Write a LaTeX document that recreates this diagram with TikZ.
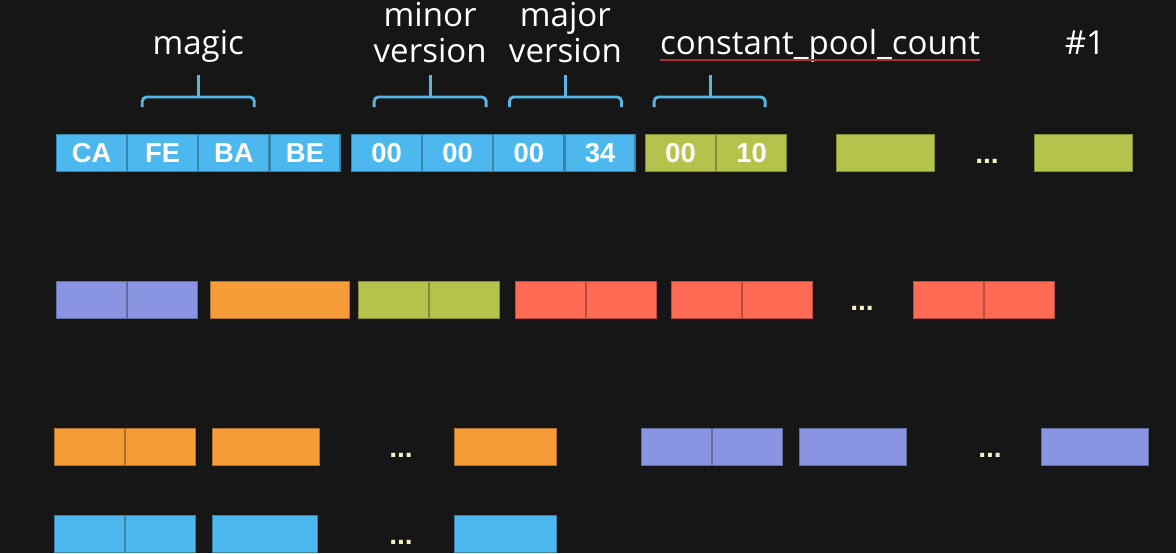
\documentclass[tikz,border=0pt]{standalone}
\usepackage{fontspec}
\setmainfont{Open Sans}
\newfontfamily\bytefont{Liberation Sans}
\usetikzlibrary{positioning}
\definecolor{boardBlack}{HTML}{161616}
\definecolor{byteBlue}{HTML}{4DB8EE}
\definecolor{poolGreen}{HTML}{B5C24C}
\definecolor{slotPurple}{HTML}{8A95E2}
\definecolor{fieldOrange}{HTML}{F59B38}
\definecolor{methodRed}{HTML}{FF6A55}
\definecolor{braceBlue}{HTML}{55B6E8}
\definecolor{dotYellow}{HTML}{F4F1C4}
\definecolor{spellRed}{HTML}{A83232}

\begin{document}
\begin{tikzpicture}[x=0.025cm, y=-0.025cm, node distance=0pt,
    cell/.style={rectangle, draw=#1!72!black, fill=#1, line width=0.8pt,
      minimum width=1.75cm, minimum height=0.925cm, inner sep=0pt,
      text=white, font=\bytefont\bfseries\fontsize{19.5}{21}\selectfont},
    field/.style={text=white, inner sep=0pt, text depth=0pt, align=center,
      font=\fontsize{23.5}{25.6}\selectfont},
    brace/.style={braceBlue, line width=2pt, rounded corners=3pt},
    dots/.style={anchor=base, inner sep=0pt, text=dotYellow,
      font=\bytefont\bfseries\fontsize{20}{20}\selectfont}]
    \useasboundingbox (0,0) rectangle (1176,553);
    \clip (0,0) rectangle (1176,553);
    \fill[boardBlack] (0,0) rectangle (1176,553);

    % first row: header bytes
    \node[cell=byteBlue, anchor=north west] (ca) at (56,134) {CA};
    \node[cell=byteBlue, right=of ca] (fe) {FE};
    \node[cell=byteBlue, right=of fe] (ba) {BA};
    \node[cell=byteBlue, right=of ba] (be) {BE};
    \node[cell=byteBlue, anchor=north west] (mi1) at (351,134) {00};
    \node[cell=byteBlue, right=of mi1] (mi2) {00};
    \node[cell=byteBlue, right=of mi2] (ma1) {00};
    \node[cell=byteBlue, right=of ma1] (ma2) {34};
    \node[cell=poolGreen, anchor=north west] (cpc1) at (645,134) {00};
    \node[cell=poolGreen, right=of cpc1] (cpc2) {10};
    \node[cell=poolGreen, minimum width=2.45cm, anchor=north west] (cp1) at (836,134) {};
    \node[dots] (d1) at (987,163) {...};
    \node[cell=poolGreen, minimum width=2.45cm, anchor=north west] (cpn) at (1034,134) {};

    \draw[brace] ([shift={(-56,-27)}]fe.north east) -- ++(0,-10) -| ++(112,10);
    \draw[brace] ([shift={(0,-37)}]fe.north east) -- ++(0,-22) coordinate (magictop);
    \draw[brace] ([shift={(-48,-27)}]mi1.north east) -- ++(0,-10) -| ++(112,10);
    \draw[brace] ([shift={(8,-37)}]mi1.north east) -- ++(0,-22) coordinate (minortop);
    \draw[brace] ([shift={(-55,-27)}]ma1.north east) -- ++(0,-10) -| ++(112,10);
    \draw[brace] ([shift={(1,-37)}]ma1.north east) -- ++(0,-22) coordinate (majortop);
    \draw[brace] ([shift={(-62,-27)}]cpc1.north east) -- ++(0,-10) -| ++(111,10);
    \draw[brace] ([shift={(-6,-37)}]cpc1.north east) -- ++(0,-22) coordinate (cpctop);

    \node[field, above=0.5cm of magictop] (magic) {magic};
    \node[field, above=0.3cm of minortop] (minor) {minor\\version};
    \node[field, above=0.3cm of majortop] (major) {major\\version};
    \node[field, anchor=south] (cpc) at (820,55) {constant\_pool\_count};
    \draw[spellRed, line width=1.1pt] ([yshift=-0.13cm]cpc.south west) -- ([yshift=-0.13cm]cpc.south east);
    \node[field, anchor=south] (first) at (1085,55) {\#1};

    % second row
    \node[cell=slotPurple, anchor=north west] (ra1) at (56,281) {};
    \node[cell=slotPurple, right=of ra1] (ra2) {};
    \node[cell=fieldOrange, minimum width=3.475cm, anchor=north west] (rb) at (210,281) {};
    \node[cell=poolGreen, anchor=north west] (rc1) at (358,281) {};
    \node[cell=poolGreen, right=of rc1] (rc2) {};
    \node[cell=methodRed, anchor=north west] (rd1) at (515,281) {};
    \node[cell=methodRed, right=of rd1] (rd2) {};
    \node[cell=methodRed, anchor=north west] (re1) at (671,281) {};
    \node[cell=methodRed, right=of re1] (re2) {};
    \node[dots] (d2) at (862,310) {...};
    \node[cell=methodRed, anchor=north west] (rf1) at (913,281) {};
    \node[cell=methodRed, right=of rf1] (rf2) {};

    % third row
    \node[cell=fieldOrange, anchor=north west] (sa1) at (54,428) {};
    \node[cell=fieldOrange, right=of sa1] (sa2) {};
    \node[cell=fieldOrange, minimum width=2.675cm, anchor=north west] (sb) at (212,428) {};
    \node[dots] (d3) at (401,457) {...};
    \node[cell=fieldOrange, minimum width=2.55cm, anchor=north west] (sc) at (454,428) {};
    \node[cell=slotPurple, anchor=north west] (sd1) at (641,428) {};
    \node[cell=slotPurple, right=of sd1] (sd2) {};
    \node[cell=slotPurple, minimum width=2.675cm, anchor=north west] (se) at (799,428) {};
    \node[dots] (d4) at (990,457) {...};
    \node[cell=slotPurple, minimum width=2.675cm, anchor=north west] (sf) at (1041,428) {};

    % fourth row
    \node[cell=byteBlue, anchor=north west] (ta1) at (54,515) {};
    \node[cell=byteBlue, right=of ta1] (ta2) {};
    \node[cell=byteBlue, minimum width=2.625cm, anchor=north west] (tb) at (212,515) {};
    \node[dots] (d5) at (401,544) {...};
    \node[cell=byteBlue, minimum width=2.55cm, anchor=north west] (tc) at (454,515) {};
\end{tikzpicture}
\end{document}
